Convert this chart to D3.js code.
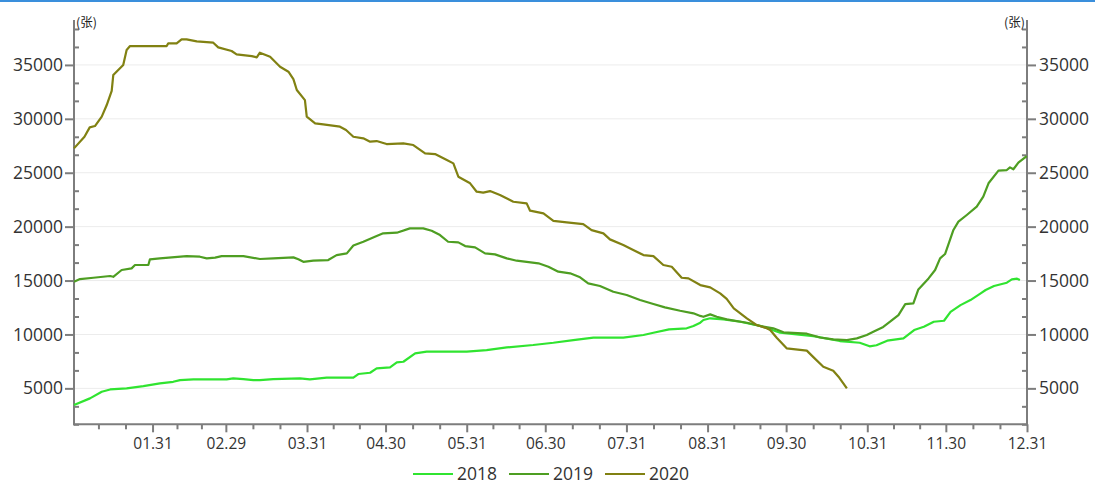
<!DOCTYPE html>
<html>
<head>
<meta charset="utf-8">
<script src="https://cdn.jsdelivr.net/npm/d3@7"></script>
<style>
  html, body { margin: 0; padding: 0; background: #fff; }
  svg { display: block; }
  text { font-family: "Open Sans", "Noto Sans", sans-serif; }
</style>
</head>
<body>
<svg id="chart" width="1095" height="484"></svg>
<script>
// ---- data (day index: 0 = Jan 1, 364 = Dec 31) ----
const seriesNames = ["2018", "2019", "2020"];

const days2018 = [0, 6.1, 10.6, 13.8, 20.1, 26.5, 32.8, 37.9, 40.5, 45.6, 58.3, 60.8, 64.7, 68.5, 71, 76.1, 86.3, 90.1, 96.5, 106.7, 108.6, 113.1, 115.6, 120.7, 123.3, 125.8, 130.3, 134.7, 150, 157.6, 165.3, 175.4, 183.1, 190.7, 198.4, 209.8, 217.5, 221.3, 227.3, 234, 236.6, 239.2, 240.4, 243, 248.1, 254.5, 262.1, 269.7, 282.4, 292.5, 300.1, 303.9, 306.5, 310.6, 316.8, 320.9, 324.6, 328.4, 332.3, 334.8, 338.6, 342.4, 346.3, 348.2, 351.4, 356.3, 358.2, 360.2, 361.3];
const values2018 = [3450, 4070, 4690, 4900, 5000, 5210, 5460, 5610, 5770, 5840, 5840, 5930, 5860, 5770, 5770, 5860, 5930, 5840, 5990, 5990, 6330, 6450, 6860, 6950, 7410, 7470, 8250, 8400, 8400, 8550, 8800, 9020, 9230, 9480, 9700, 9700, 9950, 10160, 10470, 10570, 10780, 11090, 11340, 11500, 11400, 11180, 10800, 10160, 9850, 9390, 9230, 8900, 9000, 9420, 9640, 10410, 10720, 11180, 11270, 12100, 12720, 13190, 13810, 14120, 14490, 14800, 15110, 15170, 15050];

const days2019 = [0, 2.3, 7.4, 13.8, 15, 18.2, 22, 23.3, 28.4, 29, 32.8, 43, 48.1, 50.7, 53.9, 56.4, 64.7, 71, 76.1, 83.8, 85.7, 87.6, 91.4, 97.1, 100.3, 104.2, 106.7, 110.5, 115.6, 118.1, 123.3, 128.3, 133.4, 136.6, 139.8, 142.9, 146.8, 149.4, 153.2, 157, 160.8, 165.3, 169.1, 172.9, 177.4, 181.2, 185, 189.5, 193.3, 196.4, 200.9, 206, 211.1, 216.2, 221.3, 225.7, 231.5, 236.6, 239.2, 240.4, 243, 245.5, 249.3, 257, 262.1, 267.1, 271, 279.9, 285, 290, 295.2, 299, 302.8, 305.3, 309.1, 311.7, 314.9, 317.5, 320.6, 322.5, 326.4, 328.9, 330.8, 332.7, 335.9, 337.8, 341, 344.8, 347.3, 349.3, 353.1, 356.3, 357.5, 358.8, 360.7, 363.9];
const values2019 = [14890, 15140, 15260, 15420, 15350, 15980, 16130, 16440, 16440, 16970, 17060, 17270, 17210, 17060, 17120, 17270, 17270, 17000, 17060, 17150, 16970, 16740, 16840, 16900, 17360, 17520, 18250, 18600, 19130, 19380, 19440, 19840, 19840, 19620, 19220, 18600, 18540, 18200, 18080, 17520, 17430, 17060, 16840, 16740, 16600, 16280, 15820, 15670, 15300, 14740, 14490, 13960, 13660, 13190, 12820, 12510, 12200, 11960, 11720, 11640, 11865, 11640, 11400, 11085, 10780, 10570, 10200, 10070, 9720, 9545, 9480, 9640, 9950, 10250, 10700, 11180, 11800, 12820, 12880, 14180, 15200, 15980, 17060, 17460, 19690, 20460, 21080, 21850, 22780, 24020, 25190, 25250, 25500, 25320, 25930, 26550];

const days2020 = [0, 4, 6, 8, 10.6, 12.5, 14.4, 15, 18.8, 20.1, 21.4, 35.4, 36, 39.2, 41.1, 43, 46.9, 53.2, 55.1, 60.2, 62.1, 67.9, 69.8, 71, 74.9, 78.7, 81.9, 83.8, 85.1, 88.2, 88.9, 92.1, 95.2, 101.6, 103.9, 106.7, 110.5, 113.1, 115.6, 119.4, 125.8, 129.6, 134.1, 137.9, 142.4, 144.9, 146.8, 151.3, 153.8, 156.3, 158.9, 162.7, 167.8, 172.9, 174.2, 179.3, 183.1, 188.2, 194.5, 197.7, 202.2, 204.7, 209.8, 213.6, 217.5, 221.3, 225.1, 228.3, 232.1, 234.7, 239.2, 243, 246.8, 249.3, 252, 254.5, 257, 260.8, 264.6, 265.9, 268.4, 272.2, 279.9, 282.4, 286.2, 290, 292, 295.2];
const values2020 = [27260, 28340, 29210, 29330, 30200, 31280, 32600, 34060, 35000, 36380, 36750, 36750, 37000, 37000, 37370, 37370, 37190, 37060, 36630, 36290, 35980, 35820, 35700, 36130, 35760, 34830, 34370, 33680, 32670, 31740, 30200, 29580, 29490, 29270, 28960, 28340, 28190, 27880, 27940, 27660, 27730, 27570, 26800, 26730, 26180, 25870, 24630, 24020, 23240, 23150, 23300, 22930, 22310, 22160, 21480, 21230, 20530, 20400, 20240, 19680, 19380, 18820, 18290, 17830, 17360, 17270, 16440, 16280, 15260, 15200, 14580, 14370, 13810, 13300, 12420, 11960, 11490, 10870, 10570, 10410, 9700, 8710, 8500, 7900, 7000, 6630, 6080, 5000];

const xTickDays = [30, 58, 89, 119, 150, 180, 211, 242, 272, 303, 333, 364];
const xTickLabels = ["01.31", "02.29", "03.31", "04.30", "05.31", "06.30", "07.31", "08.31", "09.30", "10.31", "11.30", "12.31"];
const yTickValues = [5000, 10000, 15000, 20000, 25000, 30000, 35000];
const unitLabel = "(张)";

const colors = ["#30e430", "#4e9e22", "#818112"];

// ---- layout ----
const svg = d3.select("#chart");
const L = 74, R = 1027, T = 20, B = 424.3;

const x = d3.scaleLinear().domain([0, 364]).range([L, R]);
const y = d3.scaleLinear().domain([5000 / 3, 39166.67]).range([B, T]);

// top blue rule
svg.append("rect").attr("x", 0).attr("y", 0).attr("width", 1095).attr("height", 2).attr("fill", "#3a8fdc");

// grid
svg.append("g").selectAll("line").data(yTickValues).join("line")
  .attr("x1", L).attr("x2", R)
  .attr("y1", d => y(d)).attr("y2", d => y(d))
  .attr("stroke", "#ececec").attr("stroke-width", 1);

// minor tick values
const yMinor = d3.range(5000 / 3, 39000, 5000 / 3).filter(v => Math.abs(v / 5000 - Math.round(v / 5000)) > 0.01);
const xMajAll = [-1].concat(xTickDays);
const xMinor = [];
for (let i = 0; i < xMajAll.length - 1; i++) {
  const a = xMajAll[i], b = xMajAll[i + 1];
  xMinor.push(a + (b - a) / 3, a + 2 * (b - a) / 3);
}

const axisColor = "#7d7d7d";
const textColor = "#333";

function styleAxis(g, fontSize) {
  g.select(".domain").remove();
  g.selectAll(".tick line").attr("stroke", axisColor).attr("stroke-width", 2);
  g.selectAll(".tick text").attr("fill", textColor).style("font-size", fontSize + "px");
}

// left axis
const gl = svg.append("g").attr("transform", `translate(${L},0)`)
  .call(d3.axisLeft(y).tickValues(yTickValues).tickSize(9).tickPadding(2).tickFormat(d3.format("d")));
styleAxis(gl, 17.5);
const glm = svg.append("g").attr("transform", `translate(${L},0)`)
  .call(d3.axisRight(y).tickValues(yMinor).tickSize(5).tickFormat(""));
styleAxis(glm, 10);

// right axis
const gr = svg.append("g").attr("transform", `translate(${R},0)`)
  .call(d3.axisRight(y).tickValues(yTickValues).tickSize(9).tickPadding(3).tickFormat(d3.format("d")));
styleAxis(gr, 17.5);
const grm = svg.append("g").attr("transform", `translate(${R},0)`)
  .call(d3.axisLeft(y).tickValues(yMinor).tickSize(5).tickFormat(""));
styleAxis(grm, 10);

// bottom axis
const gb = svg.append("g").attr("transform", `translate(0,${B})`)
  .call(d3.axisBottom(x).tickValues(xTickDays).tickSize(8).tickPadding(6).tickFormat((d, i) => xTickLabels[i]));
styleAxis(gb, 15.5);
const gbm = svg.append("g").attr("transform", `translate(0,${B})`)
  .call(d3.axisBottom(x).tickValues(xMinor).tickSize(5).tickFormat(""));
styleAxis(gbm, 10);

// axis lines
svg.append("line").attr("x1", L).attr("x2", L).attr("y1", T).attr("y2", B + 1).attr("stroke", axisColor).attr("stroke-width", 2);
svg.append("line").attr("x1", R).attr("x2", R).attr("y1", T).attr("y2", B + 1).attr("stroke", axisColor).attr("stroke-width", 2);
svg.append("line").attr("x1", L - 1).attr("x2", R + 1).attr("y1", B).attr("y2", B).attr("stroke", axisColor).attr("stroke-width", 2);

// unit labels
svg.append("text").attr("x", L + 2).attr("y", T + 7).text(unitLabel)
  .style("font-family", "'Noto Sans CJK SC', sans-serif").style("font-size", "12.5px").attr("fill", "#222");
svg.append("text").attr("x", R - 2).attr("y", T + 7).attr("text-anchor", "end").text(unitLabel)
  .style("font-family", "'Noto Sans CJK SC', sans-serif").style("font-size", "12.5px").attr("fill", "#222");

// lines
const seriesDays = [days2018, days2019, days2020];
const seriesVals = [values2018, values2019, values2020];
const line = d3.line().x(d => x(d[0])).y(d => y(d[1]));
seriesNames.forEach((name, i) => {
  const pts = seriesDays[i].map((d, j) => [d, seriesVals[i][j]]);
  svg.append("path").datum(pts)
    .attr("fill", "none").attr("stroke", colors[i]).attr("stroke-width", 2.2)
    .attr("stroke-linejoin", "round").attr("d", line);
});

// legend
const legend = svg.append("g").attr("transform", "translate(413,474)");
seriesNames.forEach((name, i) => {
  const g = legend.append("g").attr("transform", `translate(${i * 96},0)`);
  g.append("line").attr("x1", 0).attr("x2", 40).attr("y1", 0).attr("y2", 0)
    .attr("stroke", colors[i]).attr("stroke-width", 2.2);
  g.append("text").attr("x", 44).attr("y", 0).attr("dy", "0.35em")
    .style("font-size", "17.5px").attr("fill", textColor).text(name);
});
</script>
</body>
</html>
